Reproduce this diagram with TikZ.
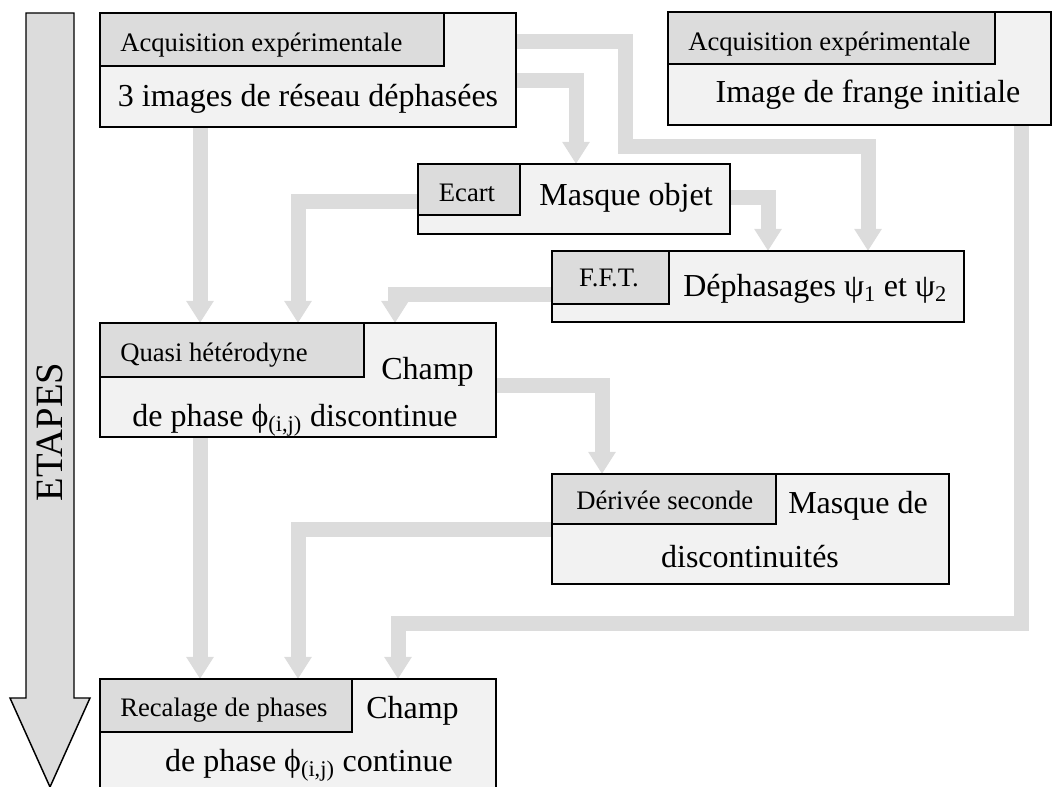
\documentclass[tikz,border=0pt]{standalone}
\usepackage{fontspec}
\setmainfont{Liberation Serif}
\usetikzlibrary{arrows.meta,backgrounds}
\definecolor{boxfill}{HTML}{F2F2F2}
\definecolor{labfill}{HTML}{DCDCDC}
\definecolor{conncol}{HTML}{DCDCDC}
\newcommand{\pxu}{0.75pt}
\begin{document}
\begin{tikzpicture}[x=0.75pt,y=-0.75pt,
 box/.style={draw=black, line width=1.1pt, fill=boxfill, inner sep=0pt, outer sep=0pt, anchor=north west, rectangle},
 lab/.style={draw=black, line width=1.1pt, fill=labfill, inner sep=0pt, outer sep=0pt, anchor=north west, rectangle},
 big/.style={font=\fontsize{24}{28}\selectfont, inner sep=0pt},
 small/.style={font=\fontsize{20}{24}\selectfont, inner sep=0pt},
 conn/.style={draw=conncol, line width=11.25pt, -{Triangle[width=19.5pt,length=16.5pt]}},
 etapes/.style={draw=black, line width=1.1pt, fill=labfill, line join=miter}]
\useasboundingbox (0,0) rectangle (1054,787);

% ETAPES arrow
\draw[etapes] (26,13) -- (74,13) -- (74,698) -- (90,698) -- (50,787) -- (10,698) -- (26,698) -- cycle;
\node[rotate=90, inner sep=0pt, font=\fontsize{29}{34}\selectfont] (etap) at (50,432) {ETAPES};

% Box 1
\node[box, minimum width=416*\pxu, minimum height=114*\pxu] (b1) at (100,13) {};
\node[lab, minimum width=344*\pxu, minimum height=53*\pxu] (l1) at (100,13) {};
\node[small, anchor=base west] (l1t) at (120,52) {Acquisition expérimentale};
\node[big, anchor=base] (b1t) at (308,107) {3 images de réseau déphasées};

% Box A2
\node[box, minimum width=383*\pxu, minimum height=113*\pxu] (a2) at (668,12) {};
\node[lab, minimum width=327*\pxu, minimum height=52*\pxu] (l2) at (668,12) {};
\node[small, anchor=base west] (l2t) at (688,51) {Acquisition expérimentale};
\node[big, anchor=base] (a2t) at (868,103) {Image de frange initiale};

% Masque objet
\node[box, minimum width=312*\pxu, minimum height=70*\pxu] (m) at (418,164) {};
\node[lab, minimum width=102*\pxu, minimum height=51*\pxu] (lm) at (418,164) {};
\node[small, anchor=base] (lmt) at (467,202) {Ecart};
\node[big, anchor=base] (mt) at (626,206) {Masque objet};

% FFT
\node[box, minimum width=412*\pxu, minimum height=71*\pxu] (f) at (552,251) {};
\node[lab, minimum width=117*\pxu, minimum height=53*\pxu] (lf) at (552,251) {};
\node[small, anchor=base] (lft) at (609,287) {F.F.T.};
\node[big, anchor=base west] (ft) at (683,297) {Déphasages ψ\textsubscript{1} et ψ\textsubscript{2}};

% Quasi heterodyne
\node[box, minimum width=396*\pxu, minimum height=114*\pxu] (q) at (100,323) {};
\node[lab, minimum width=264*\pxu, minimum height=54*\pxu] (lq) at (100,323) {};
\node[small, anchor=base west] (lqt) at (120,362) {Quasi hétérodyne};
\node[big, anchor=base west] (qt1) at (381,380) {Champ};
\node[big, anchor=base] (qt2) at (295,427) {de phase ϕ\textsubscript{(i,j)} discontinue};

% Derivee seconde
\node[box, minimum width=397*\pxu, minimum height=110*\pxu] (d) at (552,474) {};
\node[lab, minimum width=224*\pxu, minimum height=50*\pxu] (ld) at (552,474) {};
\node[small, anchor=base west] (ldt) at (576,510) {Dérivée seconde};
\node[big, anchor=base west] (dt1) at (788,514) {Masque de};
\node[big, anchor=base] (dt2) at (750,568) {discontinuités};

% Recalage
\node[box, minimum width=396*\pxu, minimum height=130*\pxu] (r) at (100,679) {};
\node[lab, minimum width=252*\pxu, minimum height=53*\pxu] (lr) at (100,679) {};
\node[small, anchor=base west] (lrt) at (120,717) {Recalage de phases};
\node[big, anchor=base west] (rt1) at (366,719) {Champ};
\node[big, anchor=base] (rt2) at (309,772) {de phase ϕ\textsubscript{(i,j)} continue};

% connectors
\coordinate (k1) at (576,81);
\coordinate (k2a) at (625,42);
\coordinate (k2b) at (868,147);
\coordinate (k3) at (768,198);
\coordinate (k4) at (200,0);
\coordinate (k5) at (298,202);
\coordinate (k6) at (395,295);
\coordinate (k7) at (602,386);
\coordinate (k9) at (298,530);
\coordinate (k10) at (1021,624);
\coordinate (k10b) at (398,624);
\begin{scope}[on background layer]
\draw[conn] (b1.east |- k1) -- (k1) -- (k1 |- m.north);
\draw[conn] (b1.east |- k2a) -- (k2a) -- (k2a |- k2b) -- (k2b) -- (k2b |- f.north);
\draw[conn] (m.east |- k3) -- (k3) -- (k3 |- f.north);
\draw[conn] (k4 |- b1.south) -- (k4 |- q.north);
\draw[conn] (m.west |- k5) -- (k5) -- (k5 |- q.north);
\draw[conn] (f.west |- k6) -- (k6) -- (k6 |- q.north);
\draw[conn] (q.east |- k7) -- (k7) -- (k7 |- d.north);
\draw[conn] (k4 |- q.south) -- (k4 |- r.north);
\draw[conn] (d.west |- k9) -- (k9) -- (k9 |- r.north);
\draw[conn] (k10 |- a2.south) -- (k10) -- (k10b) -- (k10b |- r.north);
\end{scope}
\end{tikzpicture}
\end{document}
